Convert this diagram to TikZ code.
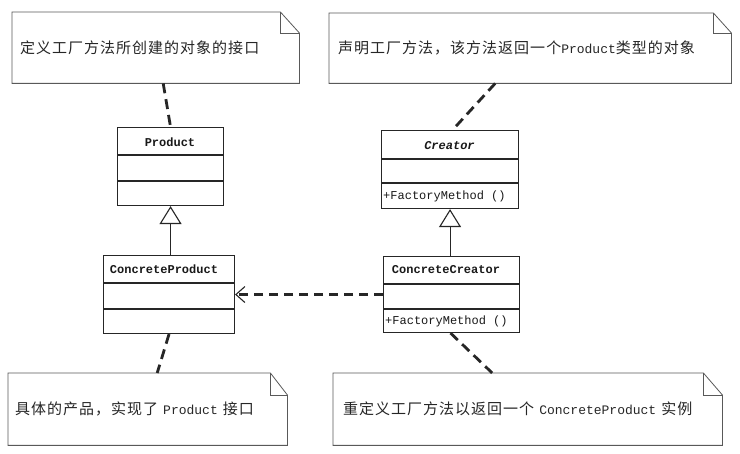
\documentclass[tikz,border=0pt]{standalone}
\usepackage{fontspec}
\setmainfont{Noto Sans CJK SC}
\newfontfamily\cjk[LetterSpace=6.7]{Noto Sans CJK SC}
\newfontfamily\mono{Liberation Mono}
\usetikzlibrary{arrows.meta,calc}
\newcommand\latw[1]{{\mono\fontsize{13}{15}\selectfont #1}}
\tikzset{
  notebox/.style={inner xsep=8pt, inner ysep=0pt, minimum height=71pt, align=left, anchor=north west,
    font=\cjk\fontsize{15}{18}\selectfont, text=black!85},
  noteline/.style={draw=black!65, line width=0.8pt},
  classbox/.style={draw=black!85, line width=1.1pt, inner sep=0pt, anchor=north west},
  classline/.style={draw=black!85, line width=1.1pt},
  clsname/.style={font=\mono\bfseries\fontsize{12}{14}\selectfont, inner sep=0pt, text=black!90},
  member/.style={font=\mono\fontsize{12}{14}\selectfont, inner sep=0pt, text=black!90},
  dashline/.style={draw=black!85, line width=2.8pt, dash pattern=on 10pt off 6pt},
  inherit/.style={draw=black!85, line width=1pt, -{Triangle[open, width=22pt, length=18pt, line width=1.1pt]}},
  depend/.style={draw=black!85, line width=2.8pt, dash pattern=on 9pt off 6pt,
    -{Straight Barb[length=9pt, width=16pt, line width=1.1pt]}},
}
\begin{document}
\begin{tikzpicture}[x=1pt, y=-1pt]
\path[use as bounding box, fill=white] (0,0) rectangle (740,454);

% notes
\node[notebox, text width=271pt] (n1) at (12,12) {定义工厂方法所创建的对象的接口};
\node[notebox, inner xsep=9pt, text width=384pt, minimum height=70pt] (n2) at (329,13) {声明工厂方法，该方法返回一个\latw{Product}类型的对象};
\node[notebox, inner xsep=7pt, text width=265pt, minimum height=72pt] (n3) at (8,373) {\raisebox{-3pt}{具体的产品，实现了 \latw{Product} 接口}};
\node[notebox, inner xsep=10pt, text width=369pt, minimum height=72pt] (n4) at (333,373) {\raisebox{-3pt}{重定义工厂方法以返回一个 \latw{ConcreteProduct} 实例}};

\foreach \n/\fx/\fy in {n1/19/21, n2/18/20, n3/17/22, n4/19/22} {
  \draw[noteline] (\n.north west) -- ([xshift=-\fx pt]\n.north east) -- ([yshift=-\fy pt]\n.north east) -- (\n.south east) -- (\n.south west) -- cycle;
  \draw[noteline] ([xshift=-\fx pt]\n.north east) |- ([yshift=-\fy pt]\n.north east);
}

% classes
\node[classbox, minimum width=106pt, minimum height=78pt] (product) at (117,127) {};
\draw[classline] (product.west |- 0,155) -- (product.east |- 0,155);
\draw[classline] (product.west |- 0,181) -- (product.east |- 0,181);
\node[clsname] (productname) at (170,142) {Product};

\node[classbox, minimum width=131pt, minimum height=78pt] (cproduct) at (103,255) {};
\draw[classline] (cproduct.west |- 0,283) -- (cproduct.east |- 0,283);
\draw[classline] (cproduct.west |- 0,309) -- (cproduct.east |- 0,309);
\node[clsname] (cproductname) at (164,269) {ConcreteProduct};

\node[classbox, minimum width=137pt, minimum height=78pt] (creator) at (381,130) {};
\draw[classline] (creator.west |- 0,159) -- (creator.east |- 0,159);
\draw[classline] (creator.west |- 0,183) -- (creator.east |- 0,183);
\node[clsname, font=\mono\bfseries\itshape\fontsize{12}{14}\selectfont] (creatorname) at (449.5,146) {Creator};
\node[member, anchor=west] (creatorop) at (383,196) {+FactoryMethod ()};

\node[classbox, minimum width=136pt, minimum height=76pt] (ccreator) at (383,256) {};
\draw[classline] (ccreator.west |- 0,284) -- (ccreator.east |- 0,284);
\draw[classline] (ccreator.west |- 0,309) -- (ccreator.east |- 0,309);
\node[clsname] (ccreatorname) at (446,270) {ConcreteCreator};
\node[member, anchor=west] (ccreatorop) at (385,321) {+FactoryMethod ()};

% relations
\draw[inherit] (cproduct.north -| product.south) -- (product.south);
\draw[inherit] (ccreator.north -| creator.south) -- (creator.south);
\draw[depend] (ccreator.west) -- (cproduct.east);

% note anchors
\draw[dashline] ([xshift=7.5pt]n1.south) -- (product.north);
\draw[dashline] ([xshift=-35pt]n2.south) -- ([xshift=2.5pt]creator.north);
\draw[dashline] (cproduct.south) -- ([xshift=9.5pt]n3.north);
\draw[dashline] ([xshift=-1pt]ccreator.south) -- ([xshift=-35.5pt]n4.north);
\end{tikzpicture}
\end{document}
